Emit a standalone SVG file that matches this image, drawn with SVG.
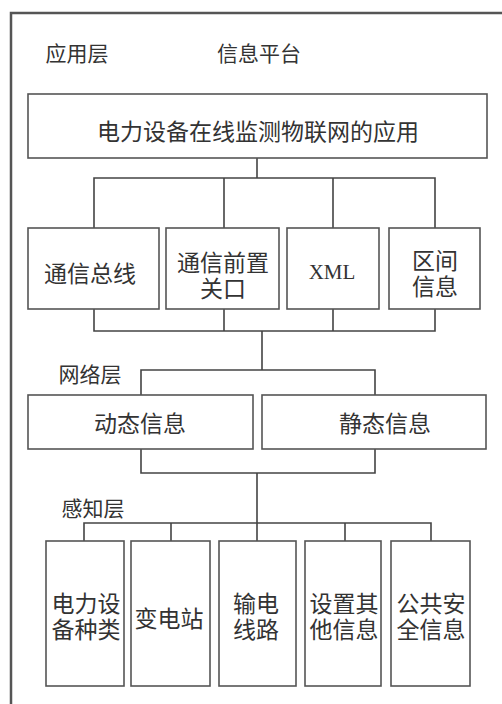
<svg xmlns="http://www.w3.org/2000/svg" width="502" height="704" viewBox="0 0 502 704">
<style>
.box{fill:#fff;stroke:#555;stroke-width:1.6}
.ln{fill:none;stroke:#444;stroke-width:1.6}
text{font-family:"Noto Sans CJK SC","Noto Sans",sans-serif;fill:#333;text-anchor:middle;dominant-baseline:central}
.t23{font-size:23px}
.t24{font-size:23px}
.lbl{font-size:21px}
</style>
<rect width="502" height="704" fill="#fff"/>
<path d="M11,704 V13 H502" fill="none" stroke="#555" stroke-width="2.5"/>
<text class="lbl" x="77" y="52">应用层</text>
<text class="lbl" x="259" y="52">信息平台</text>
<g id="connectors">
<path class="ln" d="M257,158 V178 M94,228 V178 H435 V228 M224,178 V228 M333,178 V228"/>
<path class="ln" d="M94,309 V331 H435 V309 M224,309 V331 M333,309 V331 M262,331 V370 M141,395 V370 H375 V395"/>
<path class="ln" d="M141,449 V473 H375 V449 M257,473 V523 M84,541 V523 H431 V541 M171,523 V541 M257,523 V541 M345,523 V541"/>
</g>
<g id="app"><rect class="box" x="28" y="94" width="459" height="64"/><text class="t23" x="258" y="130">电力设备在线监测物联网的应用</text></g>
<g id="bus"><rect class="box" x="28" y="228" width="131" height="81"/><text class="t23" x="90" y="272">通信总线</text></g>
<g id="gateway"><rect class="box" x="166" y="228" width="113" height="81"/><text class="t23" x="223" y="261">通信前置</text><text class="t23" x="223" y="287">关口</text></g>
<g id="xml"><rect class="box" x="287" y="228" width="92" height="81"/><text x="332" y="272" style="font-family:'Liberation Serif',serif;font-size:21px">XML</text></g>
<g id="interval"><rect class="box" x="389" y="228" width="91" height="81"/><text class="t23" x="435" y="259">区间</text><text class="t23" x="435" y="285">信息</text></g>
<text class="lbl" x="90" y="373">网络层</text>
<g id="dynamic"><rect class="box" x="28" y="395" width="225" height="54"/><text class="t23" x="140" y="422">动态信息</text></g>
<g id="static"><rect class="box" x="262" y="395" width="224" height="54"/><text class="t23" x="385" y="422">静态信息</text></g>
<text class="lbl" x="93" y="507">感知层</text>
<g id="equip"><rect class="box" x="46" y="541" width="78" height="145"/><text class="t24" x="86" y="602">电力设</text><text class="t24" x="86" y="628">备种类</text></g>
<g id="substation"><rect class="box" x="131" y="541" width="79" height="145"/><text class="t24" x="169" y="617">变电站</text></g>
<g id="line"><rect class="box" x="219" y="541" width="77" height="145"/><text class="t24" x="256" y="602">输电</text><text class="t24" x="256" y="628">线路</text></g>
<g id="other"><rect class="box" x="305" y="541" width="76" height="145"/><text class="t24" x="344" y="602">设置其</text><text class="t24" x="344" y="628">他信息</text></g>
<g id="public"><rect class="box" x="391" y="541" width="79" height="145"/><text class="t24" x="431" y="602">公共安</text><text class="t24" x="431" y="628">全信息</text></g>
</svg>
